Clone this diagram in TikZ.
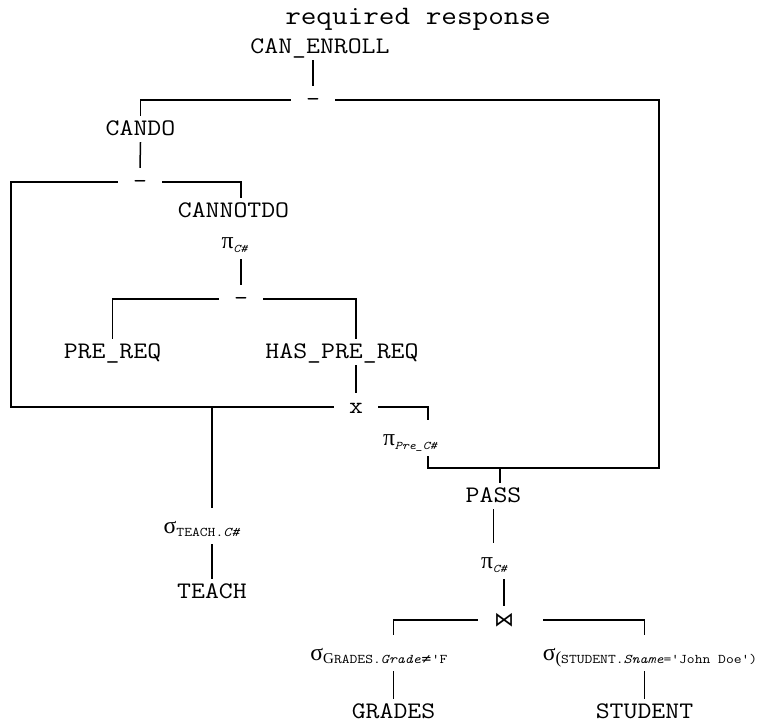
\documentclass[tikz,border=0pt]{standalone}
\usepackage{fontspec}
\usepackage{tikz}
\setmonofont[FakeStretch=1.14]{Latin Modern Mono}
\newfontfamily\greekfont{Liberation Serif}
\newfontfamily\symbfont{DejaVu Sans}
\newcommand{\subsz}{\fontsize{13.3}{14}\selectfont}
\newcommand{\relpi}[1]{{\greekfont π}\raisebox{-4pt}{\fontsize{11.7}{12}\selectfont\itshape #1}}
\newcommand{\relsigma}[1]{{\greekfont σ}\raisebox{-3pt}{\subsz #1}}

\begin{document}
\begin{tikzpicture}[x=1pt, y=-1pt,
    rel/.style={font=\ttfamily\fontsize{23.7}{28}\selectfont, anchor=base,
                inner xsep=0pt, inner ysep=6pt, text height=13pt, text depth=1pt},
    alg/.style={rel, text height=19pt, text depth=5pt},
    op/.style={font=\ttfamily\fontsize{23.7}{28}\selectfont, inner sep=0pt,
               text height=13pt, text depth=1pt, minimum width=44pt, minimum height=28pt},
    link/.style={line width=1.5pt},
]
\useasboundingbox (0,0) rectangle (764,724);

\node[rel, font=\ttfamily\fontsize{26.6}{30}\selectfont] (title) at (418,24) {required response};

% relations
\node[rel] (canenroll) at (320,53) {CAN\_ENROLL};
\node[rel] (cando) at (140.5,135) {CANDO};
\node[rel] (cannotdo) at (233.5,217) {CANNOTDO};
\node[rel] (prereq) at (112.5,358) {PRE\_REQ};
\node[rel] (hasprereq) at (342,358) {HAS\_PRE\_REQ};
\node[rel] (pass) at (493.5,502) {PASS};
\node[rel] (teach) at (212,598) {TEACH};
\node[rel] (grades) at (393.5,718) {GRADES};
\node[rel] (student) at (644.5,718) {STUDENT};

% projections and selections
\node[alg] (picannot) at (234.5,248) {\relpi{C\#}};
\node[alg] (pipre) at (410,445) {\relpi{Pre\_C\#}};
\node[alg] (picpass) at (494,568) {\relpi{C\#}};
\node[alg] (sigteach) at (202,533) {\relsigma{TEACH.\textit{C\#}}};
\node[alg] (sggrades) at (379,660) {{\greekfont σ}\raisebox{-3pt}{{\fontsize{15}{16}\selectfont\greekfont G}\subsz RADES.\textit{Grade}{\symbfont ≠}'F}};
\node[alg] (sgstudent) at (650,660) {{\greekfont σ}\raisebox{-3pt}{{\fontsize{17}{18}\selectfont\greekfont (}\subsz STUDENT.\textit{Sname}='John Doe')}};

% operators
\node[op] (minus1) at (313,100) {-};
\node[op] (minus2) at (140,182) {-};
\node[op] (minus3) at (241,299) {-};
\node[op] (cross) at (356,407) {x};
\node[op, font=\symbfont\fontsize{20}{24}\selectfont, minimum width=52pt] (join) at (504,620) {⋈};

\coordinate (crossL) at (11,407);
\coordinate (passR) at (659,468);
\coordinate (passS) at (500,468);

\draw[link] (minus1.north) -- (minus1.north |- canenroll.south);
\draw[link] (cando.north) |- (minus1.west);
\draw[link] (minus1.east) -| (passR) -| ([xshift=18pt]pipre.south);
\draw[link] (passS) -- (passS |- pass.north);

\draw[link] (cando.south) -- (minus2.north);
\draw[link] (minus2.west) -| (crossL) -- (cross.west);
\draw[link] (minus2.east) -| (minus3 |- cannotdo.north);
\draw[link] (picannot.south -| minus3) -- (minus3.north);
\draw[link] (minus3.west) -| (prereq.north);
\draw[link] (minus3.east) -| (cross |- hasprereq.north);
\draw[link] (cross.north) -- (cross.north |- hasprereq.south);
\draw[link] (cross.east) -| ([xshift=18pt]pipre.north);

\draw[link] (crossL -| teach) -- (teach |- sigteach.north);
\draw[link] (teach |- sigteach.south) -- (teach.north);

\draw[link] (pass.south) -- (pass.south |- picpass.north);
\draw[link] (join.north) -- (join.north |- picpass.south);
\draw[link] (join.west) -| (grades |- sggrades.north);
\draw[link] ([xshift=13pt]join.east) -| (student |- sgstudent.north);
\draw[link] (grades |- sggrades.south) -- (grades.north);
\draw[link] (student |- sgstudent.south) -- (student.north);
\end{tikzpicture}
\end{document}
